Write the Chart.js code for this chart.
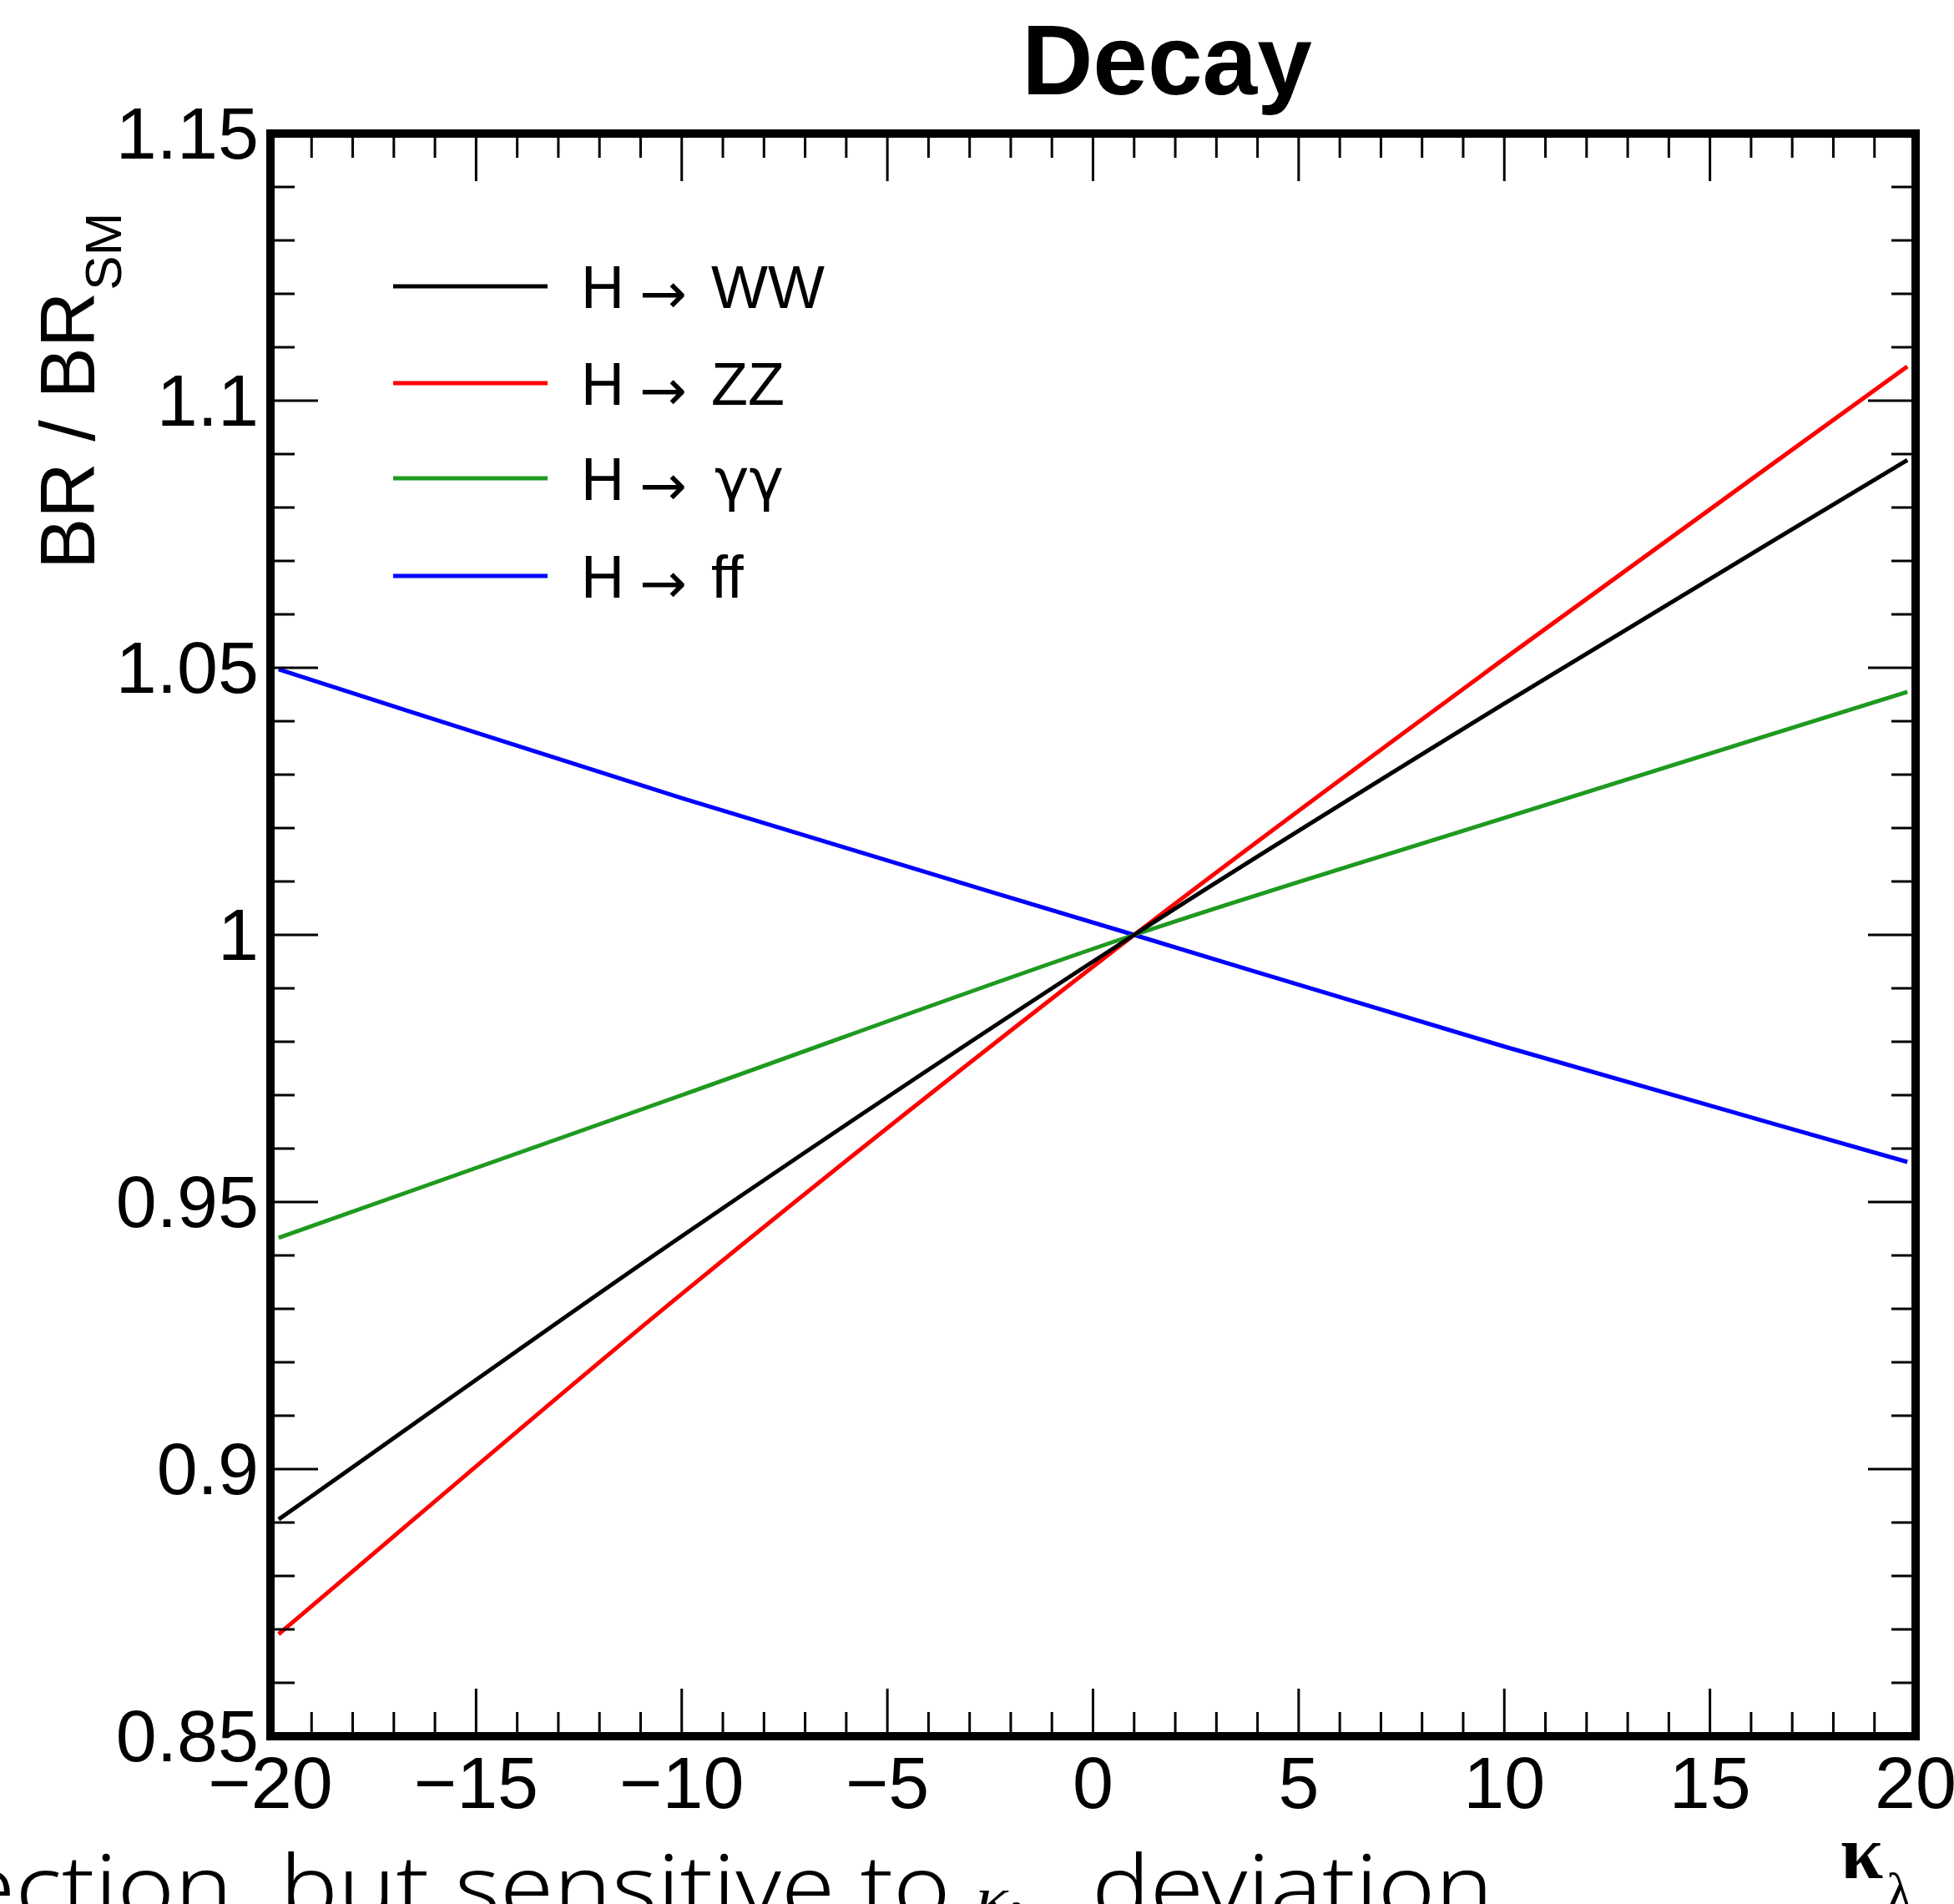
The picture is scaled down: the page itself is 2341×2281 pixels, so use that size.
<!DOCTYPE html>
<html>
<head>
<meta charset="utf-8">
<script src="https://cdn.jsdelivr.net/npm/chart.js@4.4.1/dist/chart.umd.min.js"></script>
<style>
    html, body { margin: 0; padding: 0; background: #ffffff; overflow: hidden; }
    #decayChart { display: block; }
</style>
</head>
<body>
<canvas id="decayChart" width="2341" height="2281"></canvas>
<script>
// values: BR / BR_SM against kappa_lambda
const kappaLambda = [-19.8, -10, 1, 10, 19.8];
const brWW = [0.8906, 0.9436, 1.0, 1.0433, 1.0889];
const brZZ = [0.8691, 0.9328, 1.0, 1.0517, 1.1064];
const brGammaGamma = [0.9433, 0.9700, 1.0, 1.0219, 1.0455];
const brFF = [1.0497, 1.0256, 1.0, 0.9791, 0.9575];

const seriesNames = ["H \u2192 WW", "H \u2192 ZZ", "H \u2192 \u03b3\u03b3", "H \u2192 ff"];
const seriesProducts = ["WW", "ZZ", "\u03b3\u03b3", "ff"];
const seriesColors = ["#000000", "#ff0000", "#1f9a1f", "#0000ff"];

const xTickValues = [-20, -15, -10, -5, 0, 5, 10, 15, 20];
const xTickLabels = ["\u221220", "\u221215", "\u221210", "\u22125", "0", "5", "10", "15", "20"];
const yTickValues = [0.85, 0.9, 0.95, 1, 1.05, 1.1, 1.15];
const yTickLabels = ["0.85", "0.9", "0.95", "1", "1.05", "1.1", "1.15"];

const sansFont = '"Liberation Sans", Arial, sans-serif';

function toPoints(ys) {
    return kappaLambda.map((x, i) => ({ x: x, y: ys[i] }));
}

const allSeries = [brWW, brZZ, brGammaGamma, brFF];
const datasets = allSeries.map((ys, i) => ({
    label: seriesNames[i],
    data: toPoints(ys),
    borderColor: seriesColors[i],
    borderWidth: 5,
    pointRadius: 0,
    fill: false,
    cubicInterpolationMode: "monotone"
}));

// ROOT style frame, inside ticks, labels, titles and legend
const rootFrame = {
    id: "rootFrame",
    afterDraw(chart) {
        const ctx = chart.ctx;
        const area = chart.chartArea;
        const xs = chart.scales.x;
        const ys = chart.scales.y;
        ctx.save();

        // ticks
        ctx.strokeStyle = "#000";
        ctx.lineWidth = 3;
        ctx.beginPath();
        for (let v = -20; v <= 20; v++) {
            const px = xs.getPixelForValue(v);
            const len = v % 5 === 0 ? 57 : 29;
            ctx.moveTo(px, area.bottom);
            ctx.lineTo(px, area.bottom - len);
            ctx.moveTo(px, area.top);
            ctx.lineTo(px, area.top + len);
        }
        for (let k = 85; k <= 115; k++) {
            const py = ys.getPixelForValue(k / 100);
            const len = k % 5 === 0 ? 57 : 29;
            ctx.moveTo(area.left, py);
            ctx.lineTo(area.left + len, py);
            ctx.moveTo(area.right, py);
            ctx.lineTo(area.right - len, py);
        }
        ctx.stroke();

        // frame
        ctx.lineWidth = 10;
        ctx.strokeRect(area.left, area.top, area.right - area.left, area.bottom - area.top);

        // tick labels
        ctx.fillStyle = "#000";
        ctx.font = "88px " + sansFont;
        ctx.textAlign = "right";
        ctx.textBaseline = "middle";
        yTickValues.forEach((v, i) => {
            ctx.fillText(yTickLabels[i], area.left - 14, ys.getPixelForValue(v) + 6);
        });
        ctx.textAlign = "center";
        ctx.textBaseline = "alphabetic";
        xTickValues.forEach((v, i) => {
            ctx.fillText(xTickLabels[i], xs.getPixelForValue(v), area.bottom + 86);
        });

        // title
        ctx.font = "bold 118px " + sansFont;
        ctx.textAlign = "center";
        ctx.fillText("Decay", 1398, 113);

        // y axis title: BR / BR_SM
        ctx.save();
        ctx.translate(113, 682);
        ctx.rotate(-Math.PI / 2);
        ctx.textAlign = "left";
        ctx.font = "92px " + sansFont;
        const main = "BR / BR";
        ctx.fillText(main, 0, 0);
        const w = ctx.measureText(main).width;
        ctx.font = "62px " + sansFont;
        ctx.fillText("SM", w + 2, 32);
        ctx.restore();

        // x axis title: kappa_lambda
        ctx.textAlign = "left";
        ctx.font = "bold 92px \"Liberation Serif\", serif";
        ctx.fillText("\u03ba", 2205, 2250);
        ctx.font = "64px \"Liberation Serif\", serif";
        ctx.fillText("\u03bb", 2260, 2288);

        // legend
        const rowY = [343, 459, 573, 690];
        seriesProducts.forEach((prod, i) => {
            ctx.strokeStyle = seriesColors[i];
            ctx.lineWidth = 5;
            ctx.beginPath();
            ctx.moveTo(471, rowY[i]);
            ctx.lineTo(656, rowY[i]);
            ctx.stroke();
            ctx.fillStyle = "#000";
            const base = rowY[i] + 26;
            ctx.font = "72px " + sansFont;
            ctx.fillText("H", 696, base);
            ctx.font = "68px \"DejaVu Sans\", sans-serif";
            ctx.fillText("\u2192", 766, base + 6);
            if (prod === "\u03b3\u03b3") {
                ctx.font = "70px \"DejaVu Sans\", sans-serif";
                ctx.fillText("\u03b3\u03b3", 856, base);
            } else {
                ctx.font = "72px " + sansFont;
                ctx.fillText(prod, 852, base);
            }
        });

        // slide text cut off at the bottom (wide slide font)
        ctx.save();
        ctx.scale(1.12, 1);
        const slideFont = "300 104px \"Noto Sans\", \"Open Sans\", sans-serif";
        ctx.font = slideFont;
        let x = -41;
        const base = 2298;
        const part1 = "ection, but sensitive to ";
        ctx.fillText(part1, x, base);
        x += ctx.measureText(part1).width;
        ctx.font = "italic 72px \"Liberation Serif\", serif";
        ctx.fillText("\u03ba", x, base);
        x += ctx.measureText("\u03ba").width;
        ctx.font = "italic 52px \"Liberation Serif\", serif";
        ctx.fillText("\u03bb", x, base + 18);
        x += ctx.measureText("\u03bb").width + 40;
        ctx.font = slideFont;
        ctx.fillText(" deviation", x, base);
        ctx.restore();

        ctx.restore();
    }
};

new Chart(document.getElementById("decayChart"), {
    type: "line",
    data: { datasets: datasets },
    options: {
        responsive: false,
        animation: false,
        devicePixelRatio: 1,
        layout: { padding: { left: 324, top: 160, right: 46, bottom: 201 } },
        plugins: {
            legend: { display: false },
            tooltip: { enabled: false },
            title: { display: false }
        },
        scales: {
            x: { type: "linear", min: -20, max: 20, display: false },
            y: { type: "linear", min: 0.85, max: 1.15, display: false }
        }
    },
    plugins: [rootFrame]
});
</script>
</body>
</html>
